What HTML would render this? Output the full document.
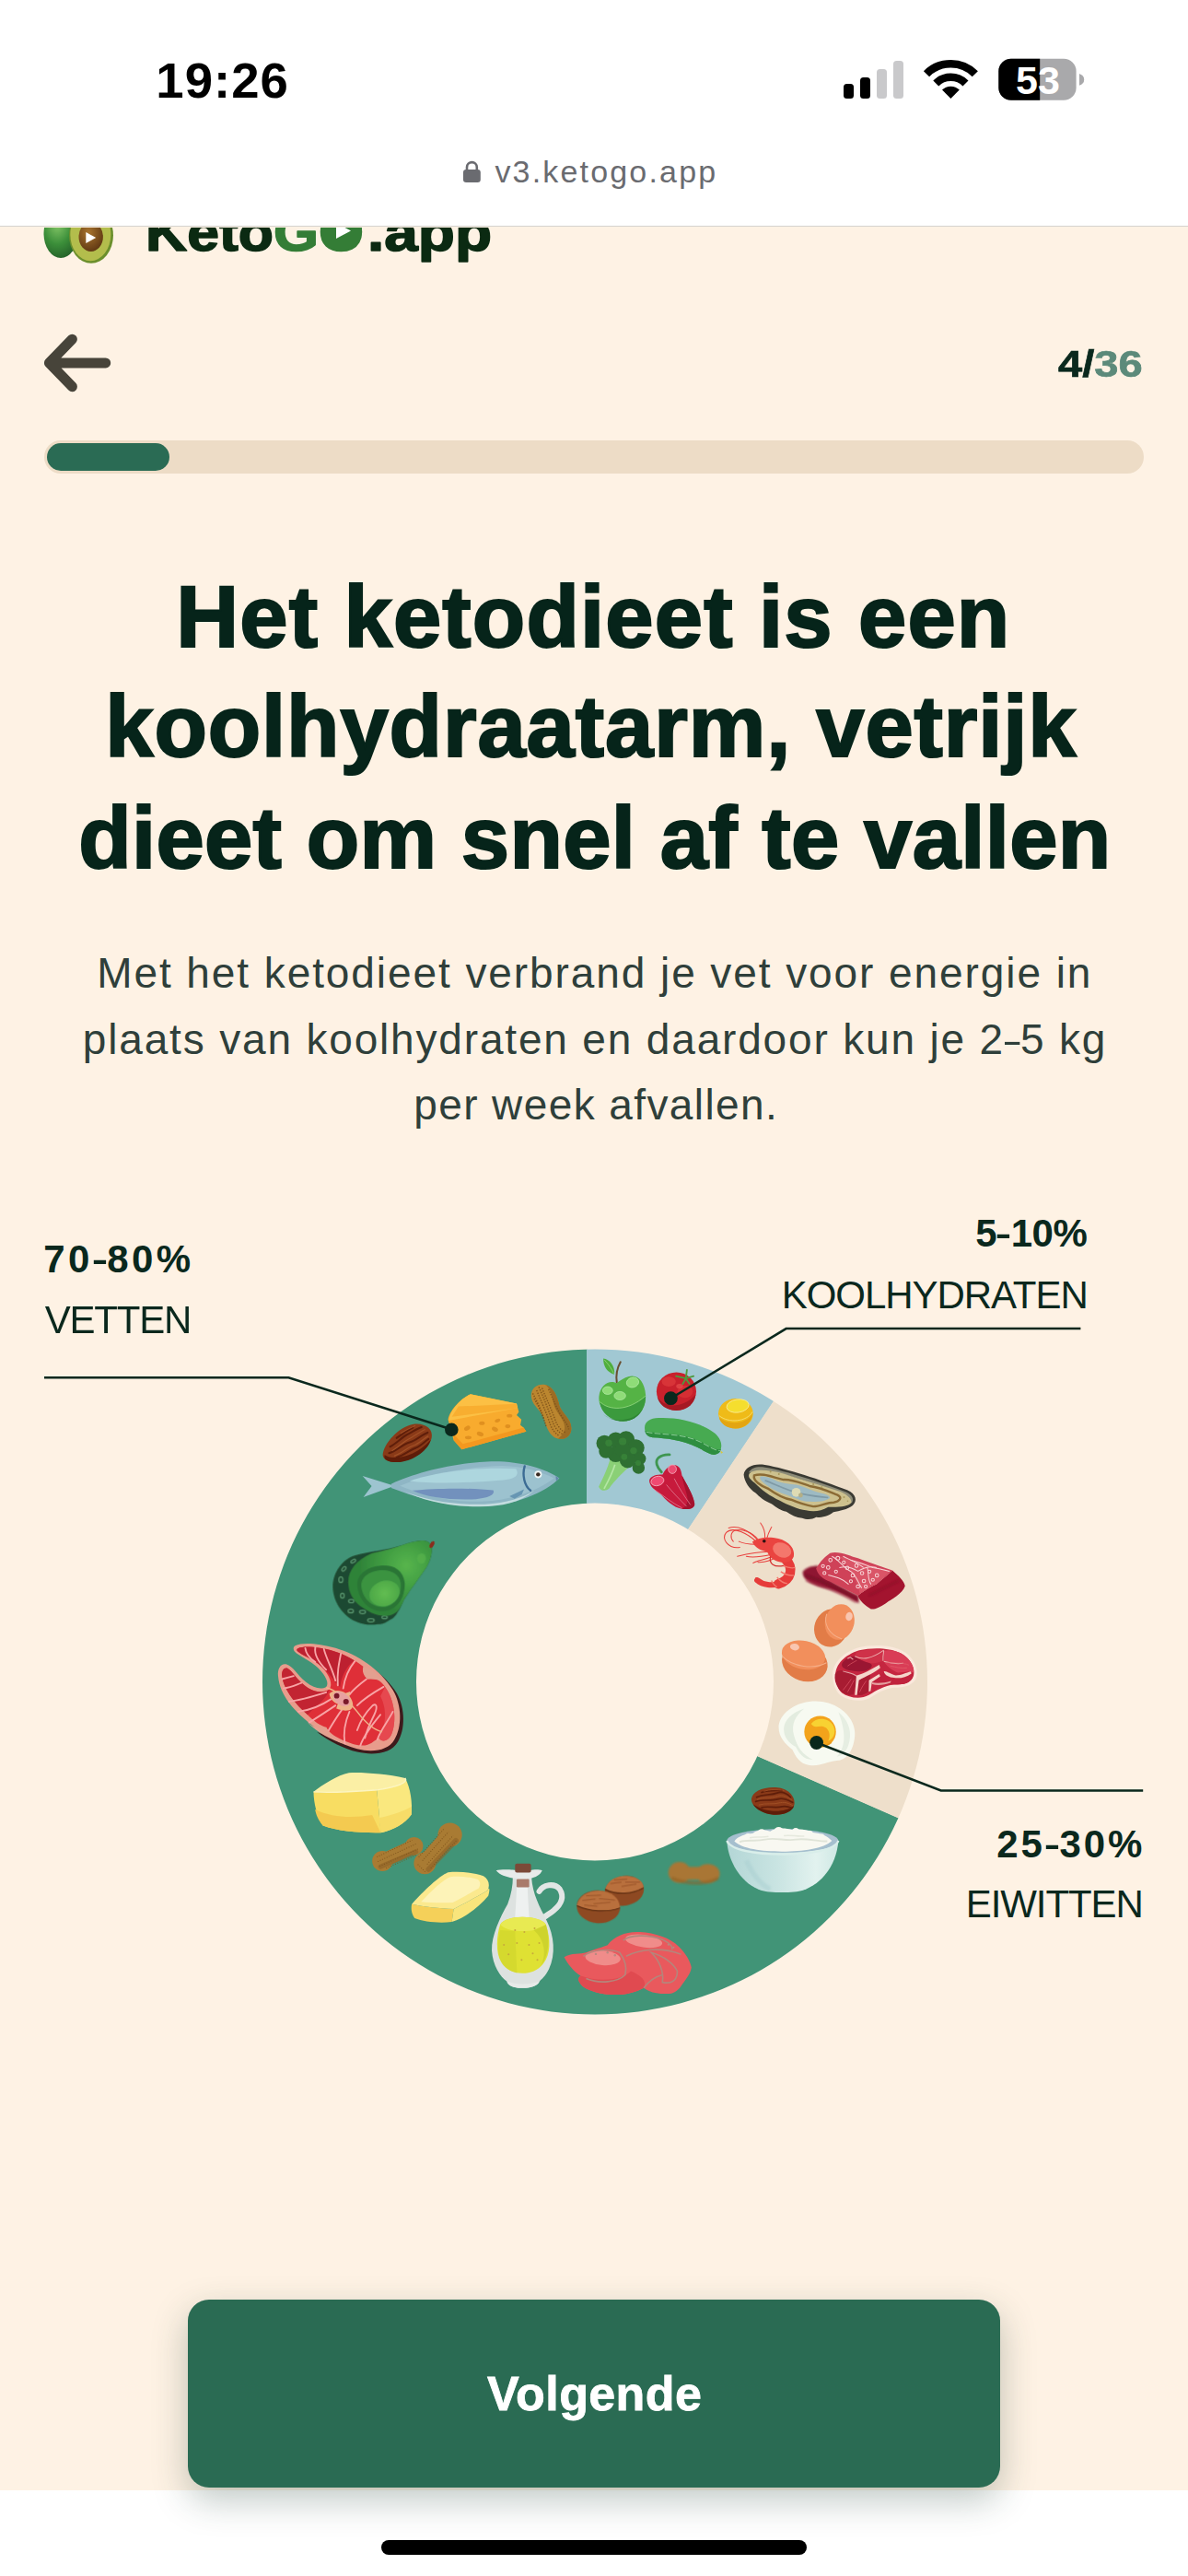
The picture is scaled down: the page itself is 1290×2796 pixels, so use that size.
<!DOCTYPE html>
<html lang="nl"><head><meta charset="utf-8"><title>KetoGO.app</title>
<style>
html,body{margin:0;padding:0}
body{width:1290px;height:2796px;position:relative;overflow:hidden;background:#fef2e4;font-family:"Liberation Sans", sans-serif}
.abs{position:absolute}
.t{position:absolute;white-space:nowrap;line-height:1;font-family:"Liberation Sans", sans-serif}
.d{display:inline-block;width:.37em;transform:scaleX(.64);transform-origin:0 50%}
#top{left:0;top:0;width:1290px;height:245px;background:#fff;border-bottom:1.5px solid #d4d2cf}
#bottom{left:0;top:2703px;width:1290px;height:93px;background:#fff}
#track{left:48px;top:478px;width:1194px;height:36px;border-radius:18px;background:#eddcc6}
#fill{left:51px;top:481px;width:133px;height:30px;border-radius:15px;background:#2a6b54}
#button{left:204px;top:2496px;width:882px;height:204px;border-radius:23px;background:#2a6b53;box-shadow:0 14px 38px rgba(30,60,50,.28)}
#home{left:414px;top:2757px;width:462px;height:15.5px;border-radius:8px;background:#000}
svg{position:absolute;left:0;top:0;overflow:visible}
</style></head><body>
<div class="abs" id="top"></div>
<div class="abs" id="bottom"></div>

<!-- status bar icons -->
<svg width="1290" height="246" viewBox="0 0 1290 246">
  <rect x="916" y="91" width="11" height="16" rx="3.5" fill="#000"/>
  <rect x="934" y="84" width="11" height="23" rx="3.5" fill="#000"/>
  <rect x="952" y="75" width="11" height="32" rx="3.5" fill="#c9c9cb"/>
  <rect x="970" y="66" width="11" height="41" rx="3.5" fill="#c9c9cb"/>
  <g fill="none" stroke="#000">
    <path d="M1006.0 80.2 A37.3 37.3 0 0 1 1058.8 80.2" stroke-width="8.7"/>
    <path d="M1016.3 90.5 A22.8 22.8 0 0 1 1048.5 90.5" stroke-width="8.5"/>
  </g>
  <path d="M1032.4 107 L1023.0 97.6 A13.2 13.2 0 0 1 1041.8 97.6 Z" fill="#000"/>
  <clipPath id="bl"><rect x="1080" y="60" width="49.2" height="52"/></clipPath>
  <rect x="1084.3" y="63.8" width="84.3" height="45" rx="13.5" fill="#a9a9ab"/>
  <rect x="1084.3" y="63.8" width="84.3" height="45" rx="13.5" fill="#000" clip-path="url(#bl)"/>
  <path d="M1172 80 Q1177.2 82 1177.2 86.4 Q1177.2 90.8 1172 92.8 Z" fill="#a9a9ab"/>
  <text x="1127" y="102" text-anchor="middle" font-family='"Liberation Sans", sans-serif' font-weight="700" font-size="43" fill="#fff">53</text>
  <!-- lock -->
  <rect x="503" y="184" width="18.8" height="14" rx="3.2" fill="#6a6b70"/>
  <path d="M507 185 V181.5 a5.4 5.4 0 0 1 10.8 0 V185" fill="none" stroke="#6a6b70" stroke-width="2.6"/>
</svg>

<!-- logo (scrolled under url bar) -->
<div class="abs" style="left:0;top:246.5px;width:1290px;height:60px;overflow:hidden">
<svg width="1290" height="60" viewBox="0 246.5 1290 60">
  <defs>
   <radialGradient id="av1" cx="40%" cy="30%" r="75%"><stop offset="0" stop-color="#86c868"/><stop offset=".55" stop-color="#3c8f3a"/><stop offset="1" stop-color="#235f28"/></radialGradient>
   <radialGradient id="seed" cx="40%" cy="35%" r="70%"><stop offset="0" stop-color="#a8742e"/><stop offset="1" stop-color="#5e3612"/></radialGradient>
  </defs>
  <ellipse cx="66" cy="253" rx="18.5" ry="26.5" fill="url(#av1)"/>
  <ellipse cx="99" cy="255" rx="24" ry="30.3" fill="#6b8f2c"/>
  <ellipse cx="98.3" cy="254" rx="22" ry="28.8" fill="#b3bd4c"/>
  <ellipse cx="98.7" cy="256.5" rx="13.2" ry="16" fill="url(#seed)"/>
  <path d="M93.3 251.5 L104.2 257.6 L93.3 263.6 Z" fill="#fff"/>
  <g font-family='"Liberation Sans", sans-serif' font-weight="700" font-size="58" stroke-linejoin="round">
   <text y="271.6"><tspan x="158" fill="#0b2a12" stroke="#0b2a12" stroke-width="1.6" textLength="139" lengthAdjust="spacingAndGlyphs">Keto</tspan><tspan x="297" fill="#347d36" stroke="#347d36" stroke-width="1.6" textLength="98" lengthAdjust="spacingAndGlyphs">GO</tspan><tspan x="399" fill="#0b2a12" stroke="#0b2a12" stroke-width="1.6" textLength="135" lengthAdjust="spacingAndGlyphs">.app</tspan></text>
  </g>
  <circle cx="371" cy="250" r="22" fill="#347d36"/>
  <path d="M365 241.5 L381 250 L365 258.5 Z" fill="#fff"/>
</svg>
</div>

<!-- back arrow -->
<svg width="1290" height="600" viewBox="0 0 1290 600">
  <path d="M78.4 368.2 L53.4 393.9 L78.4 419.7 M55 393.9 H114.7" fill="none" stroke="#47443a" stroke-width="11" stroke-linecap="round" stroke-linejoin="round"/>
</svg>
<div class="t" style="left:1149.2px;top:373.8px;font-size:41.5px;font-weight:700;transform:scaleX(1.135);transform-origin:0 50%;-webkit-text-stroke:.7px"><span style="color:#0a281d">4/</span><span style="color:#5c8a7a">36</span></div>

<div class="abs" id="track"></div>
<div class="abs" id="fill"></div>

<div class="t" id="time" style="left:169.3px;top:61.3px;font-size:54.5px;font-weight:700;color:#000;letter-spacing:1.03px;">19:26</div>
<div class="t" id="url" style="left:537.4px;top:169.1px;font-size:34px;font-weight:400;color:#6a6b70;letter-spacing:2.18px;">v3.ketogo.app</div>
<div class="t" id="h1" style="left:191.2px;top:623.1px;font-size:94px;font-weight:700;color:#06241a;letter-spacing:1.17px;-webkit-text-stroke:2.2px #06241a;">Het ketodieet is een</div>
<div class="t" id="h2" style="left:114.2px;top:742.1px;font-size:94px;font-weight:700;color:#06241a;letter-spacing:0.91px;-webkit-text-stroke:2.2px #06241a;">koolhydraatarm, vetrijk</div>
<div class="t" id="h3" style="left:85.2px;top:863.0px;font-size:94px;font-weight:700;color:#06241a;letter-spacing:0.33px;-webkit-text-stroke:2.2px #06241a;">dieet om snel af te vallen</div>
<div class="t" id="p1" style="left:105.2px;top:1032.8px;font-size:46px;font-weight:400;color:#2f3f3a;letter-spacing:1.92px;">Met het ketodieet verbrand je vet voor energie in</div>
<div class="t" id="p2" style="left:89.8px;top:1105.1px;font-size:46px;font-weight:400;color:#2f3f3a;letter-spacing:1.83px;">plaats van koolhydraten en daardoor kun je 2<span class=d>–</span>5 kg</div>
<div class="t" id="p3" style="left:449.2px;top:1175.7px;font-size:46px;font-weight:400;color:#2f3f3a;letter-spacing:1.40px;">per week afvallen.</div>

<!-- chart -->
<svg width="1290" height="2796" viewBox="0 0 1290 2796">
  <defs>
    <clipPath id="ring"><path clip-rule="evenodd" d="M646 1464.5 a361 361 0 1 0 0.01 0 Z M646 1631.5 a194 194 0 1 1 -0.01 0 Z"/></clipPath>
  </defs>
  <g clip-path="url(#ring)">
    <path d="M637.5 1825 L637.5 1400 L200 1400 L200 2300 L1200 2300 L1200 2071.5 Z" fill="#419477"/>
    <path d="M637 1825 L637 1400 L921 1400 Z" fill="#a1c8d3"/>
    <path d="M637 1825 L920.5 1400 L1200 1400 L1200 2071.7 Z" fill="#eedfcb"/>
  </g>
<defs>
  <filter id="b1" x="-10%" y="-10%" width="120%" height="120%"><feGaussianBlur stdDeviation="2.5"/></filter>
  <filter id="b2" x="-10%" y="-10%" width="120%" height="120%"><feGaussianBlur stdDeviation="4.5"/></filter>
  <filter id="b4" x="-20%" y="-20%" width="140%" height="140%"><feGaussianBlur stdDeviation="8"/></filter>
</defs>
<!-- zoom A: origin (380,1450) scale 1/4.242857 -->
<g transform="translate(380 1450) scale(0.235690)">
  <!-- almond -->
  <g>
    <path d="M152 540 C165 480 240 410 300 405 C350 402 385 430 376 470 C365 520 300 570 230 580 C180 585 145 570 152 540 Z" fill="#8a3a18"/>
    <path d="M160 548 C200 575 300 560 372 478 C360 525 300 572 230 581 C185 585 150 572 160 548 Z" fill="#5e1d09"/>
    <g fill="none" stroke="#5f1e0a" stroke-width="9" stroke-linecap="round">
      <path d="M185 510 C215 495 235 470 262 455 C285 445 305 428 330 420"/>
      <path d="M180 540 C215 530 240 500 275 490 C305 482 330 455 358 445"/>
      <path d="M215 560 C250 550 275 525 305 515 C330 505 345 485 362 475"/>
      <path d="M215 470 C240 455 260 435 290 422"/>
    </g>
    <g fill="none" stroke="#a8562a" stroke-width="5" stroke-linecap="round" opacity=".8">
      <path d="M195 528 C225 512 245 488 272 474 C295 464 320 442 345 432"/>
      <path d="M235 448 C255 436 275 424 300 414"/>
      <path d="M205 552 C240 542 262 515 292 505 C318 496 340 472 360 462"/>
    </g>
  </g>
  <!-- cheese -->
  <g>
    <path d="M555 268 L768 312 L778 350 L768 365 L790 385 L785 410 L800 422 L812 440 L515 523 L478 480 L452 385 C460 340 510 290 555 268 Z" fill="#f8ab2e"/>
    <path d="M555 268 L768 312 L772 332 L455 390 C462 340 510 290 555 268 Z" fill="#fcc044"/>
    <path d="M500 325 L765 313 L772 332 L470 372 Z" fill="#f6a92c" opacity=".8"/>
    <path d="M478 480 L515 523 L812 440 L800 422 L520 498 L480 455 Z" fill="#f3981f"/>
    <g fill="#e0901f">
      <ellipse cx="540" cy="425" rx="15" ry="10" transform="rotate(-30 540 425)"/>
      <ellipse cx="608" cy="402" rx="13" ry="9"/>
      <ellipse cx="680" cy="390" rx="13" ry="8" transform="rotate(-20 680 390)"/>
      <ellipse cx="735" cy="368" rx="13" ry="8"/>
      <ellipse cx="600" cy="452" rx="16" ry="10" transform="rotate(20 600 452)"/>
      <ellipse cx="668" cy="430" rx="15" ry="10" transform="rotate(25 668 430)"/>
      <ellipse cx="727" cy="416" rx="12" ry="9"/>
      <ellipse cx="545" cy="468" rx="15" ry="8"/>
    </g>
  </g>
  <!-- peanut -->
  <g>
    <path d="M835 275 C835 235 870 218 900 225 C940 235 955 280 965 320 C975 355 1020 380 1020 425 C1020 462 990 480 958 473 C920 465 905 420 895 385 C885 345 835 320 835 275 Z" fill="#bb862f"/>
    <path d="M900 225 C940 235 955 280 965 320 C975 355 1020 380 1020 425 C1020 462 990 480 958 473 C985 455 995 430 985 400 C970 365 945 345 938 310 C930 270 925 245 900 225 Z" fill="#9c6c24"/>
    <g fill="none" stroke="#7a4e18" stroke-width="6" stroke-dasharray="6 6" opacity=".85">
      <path d="M860 250 C880 300 900 340 920 400 C930 430 945 450 965 460"/>
      <path d="M885 240 C905 290 925 330 945 385 C955 415 975 440 995 445"/>
      <path d="M848 290 C870 320 890 370 905 420"/>
      <path d="M915 245 C935 290 950 330 975 370 C990 395 1005 410 1008 430"/><path d="M870 235 C895 290 912 335 932 390 C942 420 960 445 980 452"/><path d="M842 265 C862 300 880 340 895 385"/>
    </g>
  </g>
  <!-- fish -->
  <g>
    <path d="M205 690 L58 645 L100 692 L62 742 Z" fill="#9dc4d0" filter="url(#b1)"/>
    <path d="M190 682 C300 630 480 585 650 578 C780 575 900 610 965 655 C900 720 760 782 600 785 C450 788 300 742 190 700 Z" fill="#8fb6c5"/>
    <path d="M230 690 C350 640 550 600 700 598 C800 600 880 625 940 655 C880 700 780 750 620 762 C480 770 340 735 230 690 Z" fill="#9cc2cf"/>
    <path d="M275 668 C400 625 600 602 765 612 C782 640 762 658 705 664 C555 676 400 684 275 668 Z" fill="#add6de"/>
    <path d="M288 712 C400 700 560 700 660 711 C672 735 622 750 560 753 C450 756 350 742 288 712 Z" fill="#7291bd"/>
    <path d="M250 715 C350 760 500 780 620 775 C720 770 800 745 850 712 C780 770 700 785 600 786 C450 788 330 755 250 715 Z" fill="#c3dcdf"/>
    <path d="M805 600 C793 640 803 690 832 712" fill="none" stroke="#3c6c94" stroke-width="10" stroke-linecap="round"/>
    <path d="M735 738 L802 706 L792 730 L758 750 Z" fill="#6796b3"/>
    <circle cx="867" cy="638" r="17" fill="#eef4f3"/>
    <circle cx="867" cy="638" r="9.5" fill="#3a2a22"/>
    <path d="M948 645 L962 656 L950 668 Z" fill="#5f86a8"/>
  </g>
</g>
<!-- zoom B: origin (560,1450) scale 1/5.94 -->
<g transform="translate(560 1450) scale(0.168350)">
  <!-- apple -->
  <g filter="url(#b1)">
    <path d="M565 145 C605 150 642 192 636 248 C595 236 563 200 565 145 Z" fill="#4fae3e"/>
    <path d="M572 155 C600 185 620 215 632 242" stroke="#9fdc84" stroke-width="4" fill="none"/>
    <path d="M652 300 C645 250 655 205 676 168" stroke="#6b4f33" stroke-width="12" fill="none" stroke-linecap="round"/>
    <path d="M650 305 C610 280 545 310 537 390 C530 470 600 545 690 550 C780 552 845 470 838 380 C832 300 790 245 730 262 C700 270 670 290 650 305 Z" fill="#55b345"/>
    <path d="M543 425 C600 480 720 490 836 388 C842 480 772 552 690 550 C608 548 548 490 543 425 Z" fill="#3a9a3c"/>
    <path d="M560 500 C620 560 760 560 820 470 C790 530 740 552 690 550 C640 548 590 530 560 500 Z" fill="#2f8535"/>
    <path d="M543 425 C600 480 720 490 836 388" stroke="#a5e28f" stroke-width="4" fill="none"/>
    <ellipse cx="593" cy="352" rx="32" ry="25" fill="#8fdc78" stroke="#b8ecaa" stroke-width="4"/>
    <ellipse cx="672" cy="386" rx="37" ry="27" fill="#8fdc78" stroke="#b8ecaa" stroke-width="4"/>
    <ellipse cx="754" cy="300" rx="40" ry="32" fill="#8fdc78" stroke="#b8ecaa" stroke-width="4" transform="rotate(-15 754 300)"/>
  </g>
  <!-- broccoli -->
  <g filter="url(#b1)">
    <path d="M610 790 C595 850 562 920 535 972 C548 1002 582 1002 602 985 C640 930 690 885 725 850 L700 790 Z" fill="#8ad076"/>
    <path d="M640 830 C625 880 600 930 570 985" stroke="#b4e6a4" stroke-width="10" fill="none"/>
    <g fill="#2e6f31">
      <circle cx="572" cy="692" r="52"/><circle cx="645" cy="672" r="52"/><circle cx="712" cy="668" r="55"/>
      <circle cx="775" cy="722" r="55"/><circle cx="800" cy="792" r="40"/><circle cx="792" cy="850" r="40"/>
      <circle cx="722" cy="800" r="52"/><circle cx="645" cy="762" r="52"/><circle cx="582" cy="742" r="46"/><circle cx="690" cy="735" r="50"/>
    </g>
    <g fill="#3b8a3d" opacity=".7">
      <circle cx="600" cy="690" r="22"/><circle cx="690" cy="680" r="24"/><circle cx="760" cy="740" r="22"/><circle cx="700" cy="780" r="20"/><circle cx="790" cy="820" r="18"/>
    </g>
  </g>
</g>
<!-- zoom C: origin (690,1460) scale 1/5.94 -->
<g transform="translate(690 1460) scale(0.168350)">
  <!-- tomato -->
  <g>
    <ellipse cx="264" cy="298" rx="128" ry="123" fill="#c8212c"/>
    <path d="M140 330 C170 400 300 420 388 320 C380 390 320 421 264 421 C200 421 150 385 140 330 Z" fill="#a51923"/>
    <ellipse cx="215" cy="235" rx="45" ry="32" fill="#dc3a3c" opacity=".8"/>
    <ellipse cx="320" cy="300" rx="50" ry="40" fill="#d83236" opacity=".8"/>
    <ellipse cx="285" cy="265" rx="22" ry="16" fill="#e44848" opacity=".8"/>
    <g stroke="#4f9a3f" stroke-width="11" stroke-linecap="round" fill="none">
      <path d="M325 215 L262 200"/><path d="M325 215 L332 160"/><path d="M325 215 L375 200"/><path d="M325 215 L348 250"/><path d="M325 215 L305 250"/>
    </g>
  </g>
  <!-- lemon -->
  <g>
    <ellipse cx="647" cy="441" rx="112" ry="97" fill="#efbb18"/>
    <path d="M540 465 C600 520 720 510 757 440 C750 500 700 538 647 538 C590 538 545 505 540 465 Z" fill="#e3a512"/>
    <ellipse cx="660" cy="392" rx="72" ry="42" fill="#f5de2e" stroke="#f8ec98" stroke-width="5" transform="rotate(-8 660 392)"/>
    <path d="M540 455 C600 505 720 495 755 430" stroke="#f5e07a" stroke-width="5" fill="none"/>
  </g>
  <!-- cucumber -->
  <g filter="url(#b1)">
    <path d="M60 540 C55 500 90 470 150 470 C260 465 400 490 500 560 C560 600 570 670 530 700 C500 720 460 690 400 660 C300 610 200 600 110 595 C75 590 62 570 60 540 Z" fill="#47aa51"/>
    <path d="M62 552 C150 575 300 560 420 620 C480 650 520 680 552 670 C548 690 540 696 530 700 C500 720 460 690 400 660 C300 610 200 600 110 595 C78 590 65 572 62 552 Z" fill="#2f8e40"/>
    <path d="M70 560 C150 580 300 565 420 625 C470 650 510 680 545 680" stroke="#9bd8a4" stroke-width="5" fill="none" stroke-dasharray="40 14"/>
    <path d="M548 680 L565 692 L552 700 Z" fill="#d8c83a"/>
  </g>
  <!-- red pepper -->
  <g>
    <path d="M168 818 C140 790 122 750 150 725 C170 708 200 705 220 706" stroke="#3f9650" stroke-width="17" fill="none" stroke-linecap="round"/>
    <path d="M90 880 C85 850 130 830 175 835 C190 800 225 765 262 775 C290 785 295 810 300 840 C330 900 372 960 381 1020 C386 1050 350 1063 300 1056 C240 1046 200 1000 160 960 C120 930 95 910 90 880 Z" fill="#c71a3c"/>
    <path d="M300 840 C330 900 372 960 381 1020 C386 1050 350 1063 300 1056 C330 1040 345 1010 330 960 C320 920 305 880 300 840 Z" fill="#a3122e"/>
    <ellipse cx="142" cy="876" rx="42" ry="30" fill="#f04a72" stroke="#f3a8b8" stroke-width="5" transform="rotate(-15 142 876)"/>
    <ellipse cx="238" cy="800" rx="26" ry="28" fill="#ec4a70" stroke="#f3a8b8" stroke-width="5"/>
    <g stroke="#e58fa4" stroke-width="5" fill="none" opacity=".8">
      <path d="M200 900 C240 950 290 1000 330 1040"/>
      <path d="M250 860 C280 920 320 980 355 1030"/>
      <path d="M120 930 C180 970 240 1020 300 1050"/>
    </g>
  </g>
</g>
<!-- zoom D: origin (770,1560) scale 1/4.95 -->
<g transform="translate(770 1560) scale(0.202020)">
  <!-- oyster -->
  <g>
    <path d="M186 200 C192 160 240 138 300 148 C420 168 600 228 742 284 C792 304 797 345 772 366 C745 388 700 396 668 402 C640 425 600 432 575 430 C550 445 520 442 500 434 C470 432 440 418 415 400 C385 395 360 375 335 358 C300 345 270 320 250 300 C215 275 190 240 186 200 Z" fill="#3a3a33"/>
    <path d="M212 190 C228 163 260 155 300 162 C420 182 600 242 736 295 C772 310 780 336 766 354 C700 300 560 240 420 205 C340 185 270 180 212 190 Z" fill="#8c8b78"/>
    <path d="M214 200 C225 172 300 168 400 195 C520 235 640 268 705 292 C750 312 768 335 764 352 C750 372 700 377 640 375 C600 398 560 402 520 392 C480 388 420 362 380 340 C330 318 280 282 245 245 C222 225 210 215 214 200 Z" fill="#cdc18e"/>
    <path d="M242 205 C290 190 340 215 400 228 C450 225 500 250 540 262 C600 270 640 290 690 310 C720 325 700 345 670 350 C630 350 600 372 560 372 C520 365 480 352 440 335 C400 330 350 300 315 275 C280 262 235 235 242 205 Z" fill="none" stroke="#8b6b35" stroke-width="12"/>
    <path d="M275 212 C300 205 340 222 370 238 C420 255 450 250 480 258 C520 270 560 292 600 300 C630 305 655 318 648 328 C620 345 580 350 540 345 C500 345 460 325 420 310 C380 300 340 282 310 258 C285 240 268 225 275 212 Z" fill="#9dbac3"/>
    <path d="M300 232 C350 250 420 285 480 300 C540 312 600 322 640 324" stroke="#7f9aa6" stroke-width="8" fill="none"/>
    <circle cx="468" cy="296" r="24" fill="#dedbb4"/>
    <circle cx="492" cy="312" r="12" fill="#b4af86"/>
    <g fill="#a8985c"><circle cx="330" cy="185" r="5"/><circle cx="375" cy="198" r="5"/><circle cx="560" cy="252" r="5"/><circle cx="605" cy="268" r="5"/><circle cx="725" cy="322" r="5"/><circle cx="745" cy="343" r="4"/></g>
  </g>
  <!-- shrimp -->
  <g>
    <g fill="none" stroke="#e8413e" stroke-width="5" stroke-linecap="round">
      <path d="M255 562 C210 520 130 475 92 512 C65 545 100 600 165 592"/>
      <path d="M260 552 C215 500 150 470 105 488"/>
      <path d="M262 548 C230 510 180 490 140 500 C115 510 112 540 130 560"/>
      <path d="M300 540 C302 505 292 482 276 460"/>
      <path d="M310 545 C318 512 328 498 336 482"/>
      <path d="M250 575 C210 575 180 570 160 560"/>
      <path d="M330 615 C280 615 210 625 152 640"/>
      <path d="M335 630 C290 640 240 650 200 640"/>
      <path d="M340 640 C300 660 260 660 236 676"/>
      <path d="M350 650 C320 670 290 670 262 672"/>
    </g>
    <path d="M410 655 C455 700 445 765 372 788" stroke="#e63c3a" stroke-width="52" fill="none" stroke-linecap="round"/>
    <path d="M380 785 C340 800 290 795 258 768" stroke="#e63c3a" stroke-width="30" fill="none" stroke-linecap="round"/>
    <path d="M270 760 L248 752 L262 790 Z" fill="#e63c3a"/>
    <g stroke="#f47a6e" stroke-width="7" fill="none">
      <path d="M395 690 C420 700 445 705 462 700"/><path d="M385 722 C410 738 435 745 455 742"/><path d="M365 752 C385 775 405 785 420 785"/><path d="M335 770 C345 790 355 800 365 805"/>
    </g>
    <path d="M232 562 C262 538 322 532 372 545 C432 560 462 600 455 640 C445 670 410 680 372 668 C342 660 322 640 312 615 C282 610 246 595 232 562 Z" fill="#ea4440"/>
    <ellipse cx="392" cy="606" rx="52" ry="38" fill="#f4776c" transform="rotate(25 392 606)"/>
    <circle cx="296" cy="558" r="9" fill="#2a1010"/>
    <path d="M330 640 C320 680 350 700 400 690" stroke="#d4302f" stroke-width="6" fill="none"/>
  </g>
  <!-- marbled beef -->
  <g>
    <path d="M503 722 C500 770 560 800 640 815 C700 835 760 865 805 892 L802 850 C760 830 680 790 600 735 L585 690 C550 690 520 700 503 722 Z" fill="#8e1530" filter="url(#b2)"/>
    <path d="M515 740 C600 770 700 810 795 872" stroke="#6f0d24" stroke-width="12" fill="none" filter="url(#b2)" opacity=".7"/>
    <path d="M520 770 C600 795 700 835 790 888" stroke="#a8324a" stroke-width="8" fill="none" filter="url(#b2)" opacity=".7"/>
    <path d="M800 850 C830 830 870 800 900 790 C920 770 960 740 985 715 C1012 740 1050 770 1053 800 C1040 840 982 870 950 892 C920 912 890 927 870 923 C840 905 808 880 800 850 Z" fill="#a3142f"/>
    <path d="M860 850 C900 830 960 800 1020 770" stroke="#8c0f28" stroke-width="14" fill="none" opacity=".6" filter="url(#b2)"/>
    <path d="M575 705 C590 680 610 650 650 622 C700 608 760 640 800 650 C880 680 940 700 985 715 C960 740 920 770 900 790 C870 800 830 830 800 850 C760 830 700 800 650 775 C610 760 585 740 575 705 Z" fill="#cf4258"/>
    <path d="M700 640 C800 660 900 700 975 718 C950 745 920 770 900 790 C870 800 840 822 810 840 C800 780 760 700 700 640 Z" fill="#dc5a6c" opacity=".8"/>
    <g fill="none" stroke="#f8d6d8" stroke-width="5">
      <circle cx="652" cy="660" r="9"/><circle cx="692" cy="650" r="10"/><circle cx="724" cy="672" r="8"/><circle cx="640" cy="700" r="9"/><circle cx="682" cy="722" r="8"/>
      <circle cx="742" cy="702" r="9"/><circle cx="792" cy="690" r="9"/><circle cx="772" cy="742" r="9"/><circle cx="822" cy="730" r="9"/><circle cx="862" cy="722" r="8"/>
      <circle cx="902" cy="742" r="9"/><circle cx="832" cy="772" r="9"/><circle cx="880" cy="766" r="8"/><circle cx="800" cy="802" r="9"/><circle cx="842" cy="802" r="8"/><circle cx="762" cy="774" r="8"/><circle cx="612" cy="692" r="8"/><circle cx="620" cy="730" r="8"/>
      <path d="M700 700 C740 690 770 700 800 720 C830 700 860 690 900 700"/><path d="M640 740 C680 750 720 760 750 790"/><path d="M760 660 C800 670 850 690 880 700 C920 705 950 715 970 720"/>
      <path d="M660 640 C700 660 720 700 760 720 C790 740 800 780 820 810"/><path d="M850 700 C860 730 850 760 870 790"/><path d="M720 640 C760 660 790 670 830 700"/>
    </g>
  </g>
</g>
<!-- zoom E: origin (820,1740) scale 1/5.94 -->
<g transform="translate(820 1740) scale(0.168350)">
  <!-- egg 1 -->
  <g filter="url(#b1)">
    <ellipse cx="490" cy="160" rx="108" ry="124" fill="#e27c47" transform="rotate(18 490 160)"/>
    <ellipse cx="545" cy="122" rx="94" ry="116" fill="#f28f5b" transform="rotate(14 545 122)"/>
    <path d="M462 70 C440 130 470 200 560 232" stroke="#f6ae88" stroke-width="6" fill="none"/>
    <ellipse cx="606" cy="86" rx="22" ry="28" fill="#f9c6b0" transform="rotate(15 606 86)"/>
  </g>
  <!-- egg 2 -->
  <g filter="url(#b1)">
    <ellipse cx="320" cy="385" rx="150" ry="118" fill="#e27c47" transform="rotate(18 320 385)"/>
    <ellipse cx="312" cy="335" rx="142" ry="92" fill="#f28f5b" transform="rotate(12 312 335)"/>
    <path d="M178 345 C240 410 380 430 460 385" stroke="#f6ae88" stroke-width="6" fill="none"/>
    <ellipse cx="255" cy="283" rx="30" ry="22" fill="#f9c6b0" transform="rotate(10 255 283)"/>
  </g>
</g>
<!-- zoom S: origin (890,1775) scale 1/9.9 : steak -->
<g transform="translate(890 1775) scale(0.101010)">
  <path d="M140 420 C140 300 250 180 420 130 C560 95 760 100 880 160 C1000 220 1062 340 1042 440 C1020 540 900 562 800 562 C700 572 620 622 540 672 C440 722 300 702 220 642 C160 582 140 500 140 420 Z" fill="#fae8dc" filter="url(#b2)"/>
  <g filter="url(#b2)">
  <path d="M172 420 C172 315 270 210 425 162 C560 128 750 132 865 188 C975 245 1030 345 1010 432 C990 515 895 530 800 530 C695 540 610 592 530 642 C440 690 315 672 240 618 C190 570 172 495 172 420 Z" fill="#c5283f"/>
  <path d="M690 165 C760 150 830 170 880 195 C975 250 1020 340 1010 400 C950 380 900 400 840 400 C780 380 720 330 690 280 Z" fill="#d93e56"/>
  <path d="M390 185 C480 150 600 140 690 160 L680 275 C620 300 560 300 540 300 C470 280 420 260 385 225 Z" fill="#cf324a"/>
  <path d="M240 310 C250 260 330 230 380 225 C420 260 470 280 540 300 C580 320 560 350 520 370 C460 400 360 390 290 370 C250 350 235 335 240 310 Z" fill="#9a1530"/>
  <path d="M165 420 C175 380 220 370 260 380 C330 400 380 420 400 442 C395 520 380 580 360 635 C300 652 240 622 205 575 C170 520 158 470 165 420 Z" fill="#a81a33"/>
  <path d="M420 480 C470 450 520 420 545 410 L530 600 C490 640 440 650 400 640 Z" fill="#a81a33"/>
  <path d="M690 395 C720 460 800 480 860 470 C920 460 980 420 1005 400 C1015 460 960 525 880 525 C800 530 730 520 660 540 L560 500 L650 440 Z" fill="#c0223c"/>
  <g fill="#f4d6cb">
    <path d="M395 432 C470 420 560 360 640 318 L652 350 C600 400 500 440 422 482 L402 640 L378 640 Z"/>
    <path d="M530 482 L640 415 L652 440 L562 502 L548 600 L528 605 Z"/>
    <path d="M690 388 C720 380 760 420 820 430 C880 430 930 400 980 388 L986 410 C930 452 860 466 800 456 C750 450 700 430 690 388 Z"/>
    <path d="M560 505 C620 520 700 510 770 490 L760 510 C700 535 620 540 565 525 Z" opacity=".7"/>
  </g>
  <g fill="none" stroke="#f0c0bc" stroke-width="10" opacity=".85">
    <path d="M378 225 C470 270 560 250 690 160"/><path d="M690 162 C684 200 680 240 682 275"/><path d="M690 280 C760 300 840 310 900 300"/>
    <path d="M250 385 C300 400 360 405 400 440"/><path d="M300 250 L330 235 L360 260"/>
  </g>
  <g fill="none" stroke="#e4606e" stroke-width="8" opacity=".8">
    <path d="M300 330 C340 300 380 280 400 270"/><path d="M250 590 C290 540 320 500 340 470"/><path d="M300 610 C330 560 350 520 370 480"/><path d="M430 610 C450 560 480 520 500 490"/>
    <path d="M760 330 C820 340 880 360 940 350"/><path d="M720 290 C800 300 900 290 960 320"/>
  </g>
  </g>
</g>
<!-- zoom F: origin (790,1860) scale 1/5.4 -->
<g transform="translate(790 1860) scale(0.185185)">
  <!-- fried egg -->
  <g>
    <path d="M300 80 C300 20 360 -40 440 -62 C520 -85 600 -70 660 -30 C720 10 762 80 742 160 C730 222 700 270 640 276 C580 282 540 312 480 302 C420 292 400 250 380 210 C340 180 300 140 300 80 Z" fill="#f7faf1"/>
    <path d="M330 90 C330 40 380 -10 450 -30 C400 10 370 60 390 130 C410 200 440 240 500 270 C440 270 420 230 400 195 C360 170 330 140 330 90 Z" fill="#e3ecdf"/>
    <path d="M650 -10 C700 30 730 90 715 160 C705 210 680 245 640 252 C690 200 700 120 650 -10 Z" fill="#e6eee2"/>
    <circle cx="543" cy="106" r="93" fill="#f3a31b"/>
    <path d="M490 60 C520 20 590 20 620 70 C640 110 620 150 590 160 C610 120 590 80 560 75 C530 70 510 90 490 60 Z" fill="#f8d232"/>
    <path d="M470 150 C490 190 560 205 610 170" stroke="#e08a10" stroke-width="8" fill="none" opacity=".6"/>
  </g>
  <!-- almond B -->
  <g>
    <path d="M140 500 C145 460 200 430 280 432 C350 435 396 480 392 530 C386 570 330 596 270 592 C200 586 138 545 140 500 Z" fill="#8a3a18"/>
    <path d="M150 530 C220 580 330 585 390 540 C380 575 330 596 270 592 C215 588 165 560 150 530 Z" fill="#5e1d09"/>
    <g fill="none" stroke="#5f1e0a" stroke-width="9" stroke-linecap="round">
      <path d="M170 490 C210 470 250 480 290 465 C320 455 350 470 370 490"/>
      <path d="M165 515 C210 500 250 515 300 500 C330 492 360 510 382 520"/>
      <path d="M200 550 C240 540 280 555 320 545 C345 540 365 548 375 552"/>
      <path d="M200 462 C240 448 280 450 320 452"/>
    </g>
    <g fill="none" stroke="#a8562a" stroke-width="5" stroke-linecap="round" opacity=".8">
      <path d="M175 503 C215 486 252 498 295 483 C325 474 352 488 375 505"/>
      <path d="M185 535 C225 522 262 535 310 522 C340 516 362 528 380 537"/>
      <path d="M215 455 C250 442 290 445 330 450"/>
    </g>
  </g>
  <!-- bowl -->
  <g>
    <defs><linearGradient id="bowlg" x1="0" x2="1"><stop offset="0" stop-color="#b3d6d6"/><stop offset=".45" stop-color="#c9e4e2"/><stop offset=".8" stop-color="#e2f2ef"/><stop offset="1" stop-color="#cfe8e4"/></linearGradient></defs>
    <path d="M-4 745 C5 880 90 1000 195 1035 C250 1052 390 1052 442 1035 C560 995 640 880 650 745 Z" fill="url(#bowlg)"/>
    <ellipse cx="323" cy="745" rx="327" ry="70" fill="#a5bfce"/>
    <path d="M40 748 C60 715 110 705 150 700 C170 680 220 680 250 690 C280 668 340 668 380 682 C420 672 470 680 500 696 C550 700 590 720 612 745 C565 792 440 808 320 808 C200 808 85 792 40 748 Z" fill="#f8f8f1"/>
    <g fill="#f8f8f1"><circle cx="200" cy="700" r="24"/><circle cx="300" cy="690" r="26"/><circle cx="400" cy="694" r="24"/><circle cx="480" cy="708" r="22"/><circle cx="120" cy="722" r="20"/><circle cx="550" cy="725" r="20"/></g>
    <path d="M70 752 C120 735 160 752 220 738 C280 724 340 748 400 738 C460 728 520 748 585 748" stroke="#e0e4d8" stroke-width="10" fill="none"/>
    <path d="M130 728 C170 718 200 730 240 720 M330 716 C370 708 400 722 450 718" stroke="#e6e9de" stroke-width="8" fill="none"/>
    <path d="M-4 745 C20 800 160 824 323 824 C490 824 630 800 650 745" stroke="#d9eeea" stroke-width="12" fill="none"/>
    <path d="M110 860 C150 950 200 1005 250 1030" stroke="#a9cfd0" stroke-width="30" fill="none" opacity=".5" filter="url(#b2)"/>
  </g>
</g>
<!-- zoom G: origin (330,1620) scale 1/5.94 : avocado -->
<g transform="translate(330 1620) scale(0.168350)">
  <defs>
    <radialGradient id="avf" cx="660" cy="470" r="300" gradientUnits="userSpaceOnUse"><stop offset="0" stop-color="#58b54d"/><stop offset=".45" stop-color="#43a043"/><stop offset="1" stop-color="#2f8339"/></radialGradient>
    <radialGradient id="avp" cx="520" cy="650" r="110" gradientUnits="userSpaceOnUse"><stop offset="0" stop-color="#62bd52"/><stop offset="1" stop-color="#4aa646"/></radialGradient>
  </defs>
  <g filter="url(#b1)">
    <path d="M187 620 C180 520 250 425 330 405 C420 380 530 372 632 340 C700 318 760 300 800 318 C830 335 830 380 814 431 C800 470 780 500 762 522 C735 560 715 590 697 613 C675 645 660 670 645 691 C630 725 620 750 606 769 C590 800 570 815 554 821 C520 845 500 850 476 849 C440 855 410 852 385 847 C290 830 195 740 187 620 Z" fill="#1f4a30"/>
    <g fill="none" stroke="#5c9a74" stroke-width="7"><ellipse cx="258" cy="492" rx="17" ry="10" transform="rotate(-50 258 492)"/><ellipse cx="238" cy="562" rx="13" ry="18"/><ellipse cx="248" cy="665" rx="12" ry="16"/><ellipse cx="305" cy="700" rx="17" ry="11"/><ellipse cx="302" cy="764" rx="17" ry="12"/><ellipse cx="378" cy="770" rx="19" ry="11"/><ellipse cx="432" cy="824" rx="21" ry="11"/><ellipse cx="520" cy="804" rx="17" ry="9"/><ellipse cx="318" cy="442" rx="17" ry="9" transform="rotate(-30 318 442)"/></g>
    <path d="M287 590 C280 510 330 440 437 392 C530 372 600 352 632 340 C700 318 760 300 800 318 C830 335 830 380 814 431 C800 470 780 500 762 522 C735 560 715 590 697 613 C675 645 660 670 645 691 C630 725 620 750 599 769 C570 790 550 795 528 795 C490 795 450 785 424 769 C390 750 365 735 346 717 C310 680 290 640 287 590 Z" fill="url(#avf)"/>
    <path d="M345 600 C340 520 420 470 520 470 C580 470 640 500 650 580 C655 680 600 760 510 765 C420 768 350 690 345 600 Z" fill="#2a7536"/>
    <path d="M370 600 C368 540 430 500 510 500 C570 500 620 530 625 590 C628 670 580 735 510 738 C430 740 372 670 370 600 Z" fill="#3b9340"/>
    <ellipse cx="520" cy="650" rx="100" ry="80" fill="url(#avp)" transform="rotate(-20 520 650)"/>
    <ellipse cx="758" cy="425" rx="28" ry="34" fill="#55b04b" opacity=".8"/>
    <ellipse cx="826" cy="336" rx="12" ry="24" fill="#8a2a1a" transform="rotate(30 826 336)"/>
  </g>
</g>
<!-- zoom H: origin (270,1740) scale 1/5.94 : salmon -->
<g transform="translate(270 1740) scale(0.168350)">
  <path d="M620 320 C740 370 880 460 955 580 C1012 680 1010 815 962 895 C920 968 810 985 700 960 C620 940 520 895 440 830 C600 900 800 930 900 860 C960 790 960 680 900 580 C830 460 740 380 620 320 Z" fill="#3e1a1c"/>
  <path d="M300 275 C350 250 450 260 560 290 C700 330 850 430 930 560 C990 660 990 800 940 880 C900 950 800 965 700 940 C600 915 480 850 400 780 C300 700 200 600 190 470 C185 420 210 385 245 395 C290 410 310 460 370 510 C420 550 470 560 500 540 C520 520 500 470 450 420 C400 370 320 340 295 310 C285 295 290 280 300 275 Z" fill="#e89c8c"/>
  <path d="M318 292 C360 275 450 282 550 310 C620 330 690 370 740 410 C730 440 740 470 770 490 C820 480 850 500 880 540 C940 620 960 760 920 850 C900 890 860 900 840 870 C800 890 780 930 700 915 C620 895 520 850 500 800 C460 790 420 760 380 720 C310 660 225 560 215 470 C212 435 228 415 250 420 C280 435 300 480 360 530 C420 580 480 580 520 555 C545 530 525 465 470 410 C420 360 340 335 315 310 C308 302 310 296 318 292 Z" fill="#df2f38"/>
  <path d="M318 292 C360 275 450 282 550 310 C600 325 640 345 680 370 C640 400 600 460 590 540 C560 520 540 470 470 410 C420 360 340 335 315 310 C308 302 310 296 318 292 Z" fill="#bd2030"/>
  <path d="M215 470 C212 435 228 415 250 420 C280 435 300 480 360 530 C420 580 480 580 520 560 C500 620 440 660 380 720 C310 660 225 560 215 470 Z" fill="#c22432"/>
  <path d="M880 540 C940 620 960 760 920 850 C900 890 860 900 840 870 C880 800 900 700 850 600 Z" fill="#e8525a" opacity=".7"/>
  <g fill="none" stroke="#f8a4a6" stroke-width="11" stroke-linecap="round">
    <path d="M365 290 C370 330 400 360 430 380"/><path d="M430 285 C420 340 460 390 500 430"/><path d="M485 295 C500 360 540 420 560 500"/>
    <path d="M595 325 C580 400 570 450 575 530"/><path d="M685 375 C640 430 620 480 610 550"/><path d="M760 490 C720 520 680 550 650 590"/>
    <path d="M870 540 C800 580 740 620 700 660"/>
    <path d="M215 490 C250 480 270 475 290 470"/><path d="M225 550 C270 545 300 530 340 515"/><path d="M260 635 C340 625 420 600 500 575"/><path d="M320 700 C400 690 470 660 530 620"/>
    <path d="M390 770 C440 740 500 700 560 660"/><path d="M510 830 C540 780 570 730 600 690"/><path d="M620 905 C610 840 620 770 650 700"/>
    <path d="M700 820 C720 760 760 700 800 660 C830 640 830 680 810 720 C780 780 760 830 750 870"/>
    <path d="M720 920 C740 860 800 780 850 720"/><path d="M830 880 C850 820 900 760 930 700"/>
  </g>
  <path d="M500 545 C560 560 640 620 700 700 C760 780 820 820 860 830" stroke="#f0b48a" stroke-width="9" fill="none"/>
  <path d="M520 585 C540 560 590 555 625 580 L655 570 L650 600 C680 640 680 680 650 690 C610 700 570 680 565 680 L575 650 C545 640 525 615 520 585 Z" fill="#eeb488"/>
  <ellipse cx="600" cy="618" rx="62" ry="40" fill="#e8a0a0" transform="rotate(32 600 618)"/>
  <circle cx="568" cy="598" r="17" fill="#7a1a2a"/><circle cx="628" cy="636" r="18" fill="#7a1a2a"/>
  <path d="M740 410 C780 420 830 450 860 500 C820 490 790 490 770 490 C745 470 735 440 740 410 Z" fill="#e3a090"/>
  <path d="M380 770 C420 800 470 820 500 800 C520 840 560 880 620 905 C540 890 440 830 380 770 Z" fill="#e3a090"/>
</g>
<!-- zoom I: origin (290,1860) scale 1/4.95 : butter1, peanuts pair -->
<g transform="translate(290 1860) scale(0.202020)">
  <g>
    <path d="M250 420 C350 428 480 418 590 410 L612 640 C500 642 380 632 300 602 C270 560 250 480 250 420 Z" fill="#f8dd62"/>
    <path d="M258 515 C350 560 460 562 565 545 L610 640 C500 642 380 632 300 602 C275 572 264 545 258 515 Z" fill="#f4ca50"/>
    <path d="M590 410 C700 392 762 372 742 346 C772 400 782 480 776 542 C742 590 680 626 612 640 Z" fill="#fae87e"/>
    <path d="M600 560 C680 545 740 520 776 500 L776 542 C742 590 680 626 612 640 Z" fill="#f7dc68"/>
    <path d="M250 420 C300 380 380 330 440 318 C520 314 640 325 742 346 C762 372 700 392 590 410 C480 418 350 428 250 420 Z" fill="#fbefa5"/>
    <path d="M250 420 C350 428 480 418 590 410 C700 392 762 372 742 346" stroke="#fdf5c0" stroke-width="7" fill="none"/>
  </g>
  <g>
    <path d="M622 790 L790 712" stroke="#a97b33" stroke-width="74" stroke-linecap="round"/>
    <circle cx="620" cy="792" r="55" fill="#a97b33"/><circle cx="790" cy="712" r="49" fill="#a97b33"/>
    <path d="M848 803 L982 652" stroke="#a97b33" stroke-width="86" stroke-linecap="round"/>
    <circle cx="848" cy="804" r="59" fill="#a97b33"/><circle cx="983" cy="651" r="65" fill="#a97b33"/>
    <path d="M610 822 L800 742" stroke="#8d6226" stroke-width="26" stroke-linecap="round" opacity=".6"/>
    <path d="M868 836 L1015 682" stroke="#8d6226" stroke-width="28" stroke-linecap="round" opacity=".6"/>
    <g stroke="#7c5219" stroke-width="5" stroke-dasharray="5 8" fill="none" opacity=".85">
      <path d="M590 770 L780 680"/><path d="M595 795 L800 700"/><path d="M605 820 L815 725"/><path d="M640 830 L800 760"/>
      <path d="M815 770 L950 620"/><path d="M835 790 L975 635"/><path d="M860 810 L1000 655"/><path d="M880 830 L1020 680"/><path d="M810 810 L850 850"/>
    </g>
  </g>
</g>
<!-- zoom J: origin (430,2000) scale 1/4.95 : butter2, oil bottle -->
<g transform="translate(430 2000) scale(0.202020)">
  <g>
    <path d="M85 330 C150 346 230 352 310 356 L300 426 C230 434 150 426 100 406 C82 380 80 350 85 330 Z" fill="#f5d059"/>
    <path d="M310 356 C360 330 440 290 492 258 C502 232 506 252 496 286 C450 340 380 400 300 426 Z" fill="#f9e57c"/>
    <path d="M85 330 C150 260 230 180 280 160 C340 154 420 160 470 180 C500 198 506 230 492 258 C440 290 360 330 310 356 C230 352 150 346 85 330 Z" fill="#fbe98e"/>
    <path d="M135 318 C190 260 250 200 292 184 C340 180 400 184 440 198 C455 210 455 228 445 245 C400 270 350 300 305 322 C240 325 180 322 135 318 Z" fill="#fdf3b8"/>
  </g>
  <g>
    <path d="M770 262 C790 225 850 215 880 250 C905 290 890 330 850 362 C830 380 805 392 795 402" stroke="#e2e6e5" stroke-width="30" fill="none" stroke-linecap="round"/>
    <path d="M628 185 L728 185 C735 280 770 340 810 420 C850 500 860 600 822 680 C802 720 782 735 772 745 C762 776 700 783 680 781 C640 783 600 771 595 745 C560 720 520 660 515 580 C512 500 560 400 600 330 C620 280 628 230 628 185 Z" fill="#dde2e0"/>
    <path d="M650 190 L705 190 C708 280 712 340 716 400 L640 400 C644 340 648 280 650 190 Z" fill="#eef1f0"/>
    <path d="M538 150 C560 142 640 145 650 150 L720 150 C740 143 770 143 786 150 C770 182 740 187 725 192 L640 192 C600 187 560 176 538 150 Z" fill="#e8ebea"/>
    <rect x="640" y="113" width="86" height="48" rx="9" fill="#7b4a38"/>
    <rect x="648" y="196" width="68" height="44" rx="6" fill="#a97a6a"/>
    <path d="M560 440 C575 415 620 400 680 400 C740 400 790 415 806 440 C832 520 832 600 792 650 C762 690 722 702 680 702 C630 702 590 682 565 640 C535 590 540 500 560 440 Z" fill="#dfe133"/>
    <path d="M560 440 C575 415 620 400 680 400 C740 400 790 415 806 440 C780 465 730 475 680 475 C630 475 585 465 560 440 Z" fill="#e8ea52"/>
    <path d="M640 475 L650 700 C610 690 580 670 565 640 C545 600 545 540 560 470 Z" fill="#d0d52c" opacity=".7"/>
    <path d="M740 470 C800 520 810 600 780 660 C820 610 830 520 806 440 Z" fill="#c9cf2a" opacity=".8"/>
    <g fill="#c7a93c"><circle cx="640" cy="470" r="5"/><circle cx="690" cy="480" r="5"/><circle cx="745" cy="460" r="5"/><circle cx="580" cy="550" r="5"/><circle cx="650" cy="540" r="5"/><circle cx="715" cy="550" r="5"/><circle cx="770" cy="540" r="5"/><circle cx="735" cy="595" r="5"/><circle cx="675" cy="630" r="5"/><circle cx="760" cy="630" r="5"/><circle cx="605" cy="600" r="5"/></g>
    <path d="M600 745 C640 765 720 765 770 745 C762 776 700 783 680 781 C640 783 602 771 600 745 Z" fill="#e6eae8"/>
  </g>
</g>
<!-- zoom K: origin (590,1990) scale 1/4.95 : nuts, small peanut, chicken -->
<g transform="translate(590 1990) scale(0.202020)">
  <g filter="url(#b1)">
    <ellipse cx="435" cy="308" rx="106" ry="80" fill="#8e4a22" transform="rotate(-10 435 308)"/>
    <path d="M332 300 C345 250 400 222 460 230 C510 236 540 262 538 292 C480 325 400 335 332 300 Z" fill="#b96f3c"/>
    <path d="M332 300 C400 335 480 325 538 292" stroke="#4e220c" stroke-width="5" fill="none"/>
    <g stroke="#8a4a22" stroke-width="4" fill="none" opacity=".8"><path d="M360 270 L420 262"/><path d="M380 250 L450 246"/><path d="M420 285 L500 272"/><path d="M440 262 L520 262"/></g>
    <ellipse cx="296" cy="394" rx="117" ry="88" fill="#8e4a22" transform="rotate(4 296 394)"/>
    <path d="M180 388 C190 335 245 305 305 308 C365 312 410 345 412 400 C340 425 250 420 180 388 Z" fill="#b96f3c"/>
    <path d="M180 388 C250 420 340 425 412 400" stroke="#4e220c" stroke-width="5" fill="none"/>
    <g stroke="#8a4a22" stroke-width="4" fill="none" opacity=".8"><path d="M210 360 L280 352"/><path d="M230 335 L310 332"/><path d="M270 378 L360 370"/><path d="M300 350 L385 358"/><path d="M220 385 L290 392"/></g>
  </g>
  <g filter="url(#b2)">
    <ellipse cx="732" cy="210" rx="60" ry="56" fill="#a97634"/>
    <ellipse cx="884" cy="216" rx="64" ry="52" fill="#a97634"/>
    <rect x="740" y="180" width="140" height="68" fill="#a97634"/>
    <path d="M690 240 C760 275 880 275 940 240" stroke="#8f6026" stroke-width="18" fill="none" opacity=".6"/>
  </g>
  <g>
    <path d="M112 665 C150 640 200 650 230 640 C280 620 320 610 345 600 C380 550 450 525 520 530 C600 535 680 560 730 610 C770 650 790 690 796 720 C790 760 760 790 740 820 C720 850 690 866 650 861 C600 861 570 850 540 830 C500 850 440 871 380 866 C320 866 250 850 210 820 C190 800 180 780 200 765 C160 740 130 700 112 665 Z" fill="#e9595d"/>
    <path d="M200 765 C300 800 420 790 470 740 C520 760 560 790 540 830 C500 850 440 871 380 866 C320 866 250 850 210 820 C190 800 180 780 200 765 Z" fill="#e04a50"/>
    <ellipse cx="540" cy="578" rx="100" ry="34" fill="#f08c8a" transform="rotate(8 540 578)"/>
    <ellipse cx="320" cy="668" rx="95" ry="40" fill="#f08c8a" transform="rotate(5 320 668)"/>
    <g fill="none" stroke="#b5857b" stroke-width="8">
      <path d="M430 575 C460 545 560 540 640 570 C680 590 700 610 690 625"/>
      <path d="M215 660 C260 625 360 615 410 640 C440 680 450 720 440 760 C400 800 300 810 230 780"/>
      <path d="M580 640 C620 680 650 740 640 800 C690 810 720 790 720 740 C700 700 650 660 580 640 Z"/>
      <path d="M445 660 C520 620 640 610 740 650"/>
      <path d="M540 830 C570 790 600 770 640 760"/>
    </g>
    <g fill="#b98a80"><circle cx="282" cy="648" r="6"/><circle cx="345" cy="640" r="6"/><circle cx="385" cy="655" r="6"/><circle cx="672" cy="598" r="5"/><circle cx="700" cy="612" r="5"/></g>
  </g>
</g>

  <g fill="none" stroke="#0a281d" stroke-width="2.5">
    <path d="M48 1495.2 H313.4 L490.3 1551.5"/>
    <path d="M1173.4 1442.1 H853.6 L728.4 1517.7"/>
    <path d="M1241.2 1943.4 H1021.7 L886.6 1891.5"/>
  </g>
  <g fill="#0a281d">
    <circle cx="490.3" cy="1551.8" r="7.3"/>
    <circle cx="728.4" cy="1517.7" r="7.4"/>
    <circle cx="886.6" cy="1891.5" r="7.4"/>
  </g>
</svg>

<div class="t" id="l1a" style="left:47.3px;top:1345.6px;font-size:42px;font-weight:700;color:#0a281d;letter-spacing:3.34px;">70<span class=d>–</span>80%</div>
<div class="t" id="l1b" style="left:48.8px;top:1411.6px;font-size:42px;font-weight:400;color:#0a281d;letter-spacing:-1.24px;">VETTEN</div>
<div class="t" id="l2a" style="left:1059.3px;top:1318.3px;font-size:42px;font-weight:700;color:#0a281d;letter-spacing:-0.49px;">5<span class=d>–</span>10%</div>
<div class="t" id="l2b" style="left:848.8px;top:1384.9px;font-size:42px;font-weight:400;color:#0a281d;letter-spacing:-1.06px;">KOOLHYDRATEN</div>
<div class="t" id="l3a" style="left:1082.3px;top:1980.6px;font-size:42px;font-weight:700;color:#0a281d;letter-spacing:2.94px;">25<span class=d>–</span>30%</div>
<div class="t" id="l3b" style="left:1048.8px;top:2046.4px;font-size:42px;font-weight:400;color:#0a281d;letter-spacing:-1.09px;">EIWITTEN</div>

<div class="abs" id="button"></div>
<div class="t" id="btn" style="left:528.9px;top:2572.0px;font-size:52px;font-weight:700;color:#fff;letter-spacing:0.40px;-webkit-text-stroke:.8px #fff;">Volgende</div>
<div class="abs" id="home"></div>
</body></html>
